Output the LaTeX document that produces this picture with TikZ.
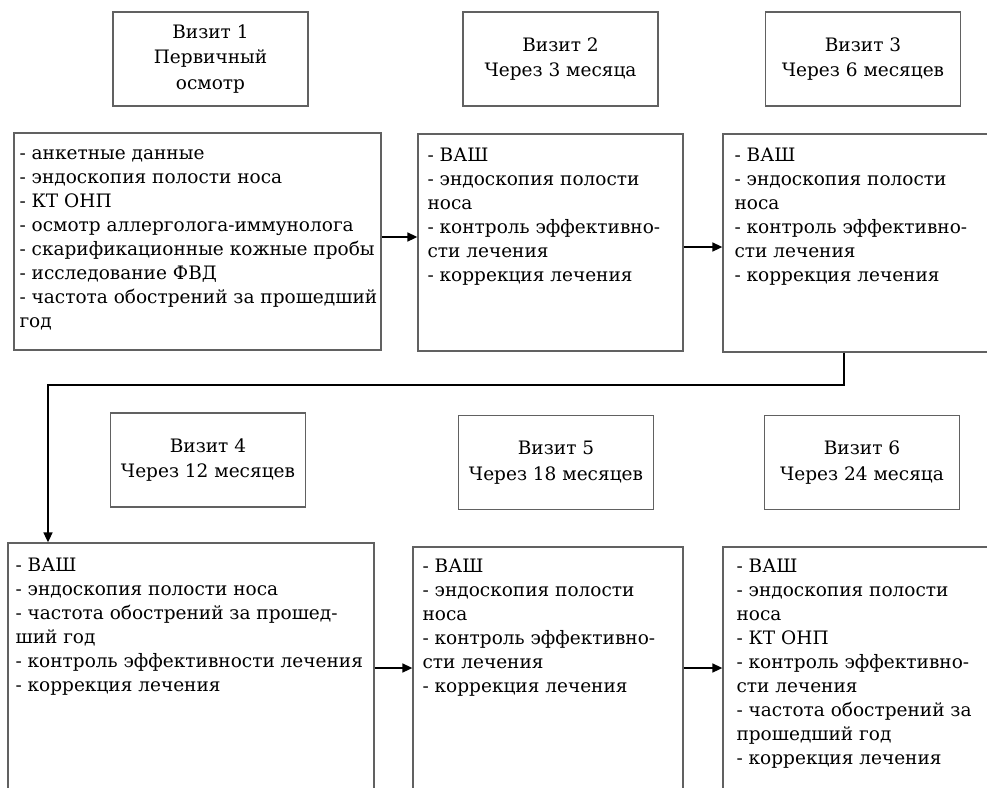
\documentclass[tikz,border=0pt]{standalone}
\usepackage{fontspec}
\setmainfont{DejaVu Serif}
\usetikzlibrary{arrows.meta}

\begin{document}
\begin{tikzpicture}[x=1pt, y=-1pt,
    frame/.style={draw=black!62, line width=1.3pt, rectangle, inner sep=0pt},
    head/.style={frame, minimum width=195pt, minimum height=94pt, align=center,
      font=\fontsize{18.5}{25.5}\selectfont},
    txt/.style={anchor=north west, inner sep=0pt, align=left,
      font=\fontsize{18.5}{24}\selectfont},
    arr/.style={-{Triangle[length=10pt, width=9pt]}, line width=1.6pt}]
    \useasboundingbox (0,0) rectangle (987,787);
    \clip (0,0) rectangle (987,787);
    % visit headers
    \node[head] (h1) at (210.5, 59) {Визит 1\\Первичный\\осмотр};
    \node[head] (h2) at (560.5, 59) {Визит 2\\Через 3 месяца};
    \node[head] (h3) at (863, 59) {Визит 3\\Через 6 месяцев};
    \node[head] (h4) at (208, 460) {Визит 4\\Через 12 месяцев};
    \node[head] (h5) at (556, 462.5) {Визит 5\\Через 18 месяцев};
    \node[head] (h6) at (862, 462.5) {Визит 6\\Через 24 месяца};
    % content boxes
    \node[frame, minimum width=367pt, minimum height=217pt] (b1) at (197.5, 241.5) {};
    \node[frame, minimum width=265pt, minimum height=217pt] (b2) at (550.5, 242.5) {};
    \node[frame, minimum width=280pt, minimum height=218pt] (b3) at (863, 243) {};
    \node[frame, minimum width=366pt, minimum height=257pt] (b4) at (191, 671.5) {};
    \node[frame, minimum width=270pt, minimum height=253pt] (b5) at (548, 673.5) {};
    \node[frame, minimum width=280pt, minimum height=253pt] (b6) at (863, 673.5) {};
    % texts
    \node[txt] (t1) at ([xshift=6pt, yshift=-10pt]b1.north west) {\strut- анкетные данные\\- эндоскопия полости носа\\- КТ ОНП\\- осмотр аллерголога-иммунолога\\- скарификационные кожные пробы\\- исследование ФВД\\- частота обострений за прошедший\\год};
    \node[txt] (t2) at ([xshift=10pt, yshift=-11pt]b2.north west) {\strut- ВАШ\\- эндоскопия полости\\носа\\- контроль эффективно-\\сти лечения\\- коррекция лечения};
    \node[txt] (t3) at ([xshift=12pt, yshift=-11pt]b3.north west) {\strut- ВАШ\\- эндоскопия полости\\носа\\- контроль эффективно-\\сти лечения\\- коррекция лечения};
    \node[txt] (t4) at ([xshift=8pt, yshift=-12pt]b4.north west) {\strut- ВАШ\\- эндоскопия полости носа\\- частота обострений за прошед-\\ший год\\- контроль эффективности лечения\\- коррекция лечения};
    \node[txt] (t5) at ([xshift=10pt, yshift=-9pt]b5.north west) {\strut- ВАШ\\- эндоскопия полости\\носа\\- контроль эффективно-\\сти лечения\\- коррекция лечения};
    \node[txt] (t6) at ([xshift=14pt, yshift=-9pt]b6.north west) {\strut- ВАШ\\- эндоскопия полости\\носа\\- КТ ОНП\\- контроль эффективно-\\сти лечения\\- частота обострений за\\прошедший год\\- коррекция лечения};
    % connectors
    \coordinate (c1) at (48, 385);
    \coordinate (c2) at (844, 0);
    \coordinate (r2) at (0, 668);
    \draw[arr] ([yshift=4.5pt]b1.east) -- ([yshift=4.5pt]b1.east -| b2.west);
    \draw[arr] ([yshift=-4.5pt]b2.east) -- ([yshift=-4.5pt]b2.east -| b3.west);
    \draw[arr] (c2 |- b3.south) |- (c1) -- (c1 |- b4.north);
    \draw[arr] (b4.east |- r2) -- (b5.west |- r2);
    \draw[arr] (b5.east |- r2) -- (b6.west |- r2);
\end{tikzpicture}
\end{document}
